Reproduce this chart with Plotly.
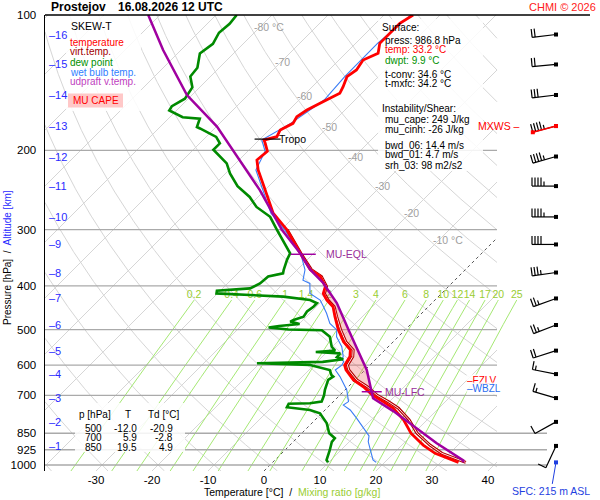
import numpy as np
import plotly.graph_objects as go

# ---------------- data ----------------
temp_p = [986.8, 942, 903, 850, 794, 748, 723, 700, 670, 647, 615, 600, 574, 555, 532, 510, 500, 468, 445, 430,
          416, 401, 381, 368, 338.5, 300, 275.7, 240, 221, 210, 200.8, 192.8, 189.6, 186.4, 180.1, 174.1, 168.3,
          162.6, 159.9, 154.5, 149.3, 144.3, 137.1, 132.5, 125.9, 121.7, 115.6, 109.8, 104.3, 100]
temp_t = [33.2, 27.4, 23.8, 19.5, 15.8, 11.9, 8.9, 5.9, 2.7, -0.3, -3.4, -4.5, -5.1, -6.2, -8.9, -11.0, -12.0, -14.9,
          -17.0, -19.3, -21.1, -22.0, -24.7, -27.7, -32.4, -39.0, -44.4, -50.9, -54.8, -56.8, -56.5, -58.3, -59.1,
          -57.4, -58.0, -56.9, -57.4, -56.8, -56.3, -55.1, -53.9, -54.5, -55.6, -55.1, -55.7, -54.2, -55.7, -55.7,
          -55.7, -54.8]

virt_p = [986.8, 942, 903, 850, 794, 748, 723, 700, 670, 647, 615, 600, 574, 555, 532, 510, 500, 468, 445, 430,
          416, 401, 381, 368, 338.5, 300]
virt_t = [34.5, 28.6, 25.0, 20.6, 16.8, 12.8, 9.8, 6.7, 3.4, 0.3, -2.9, -4.0, -4.6, -5.7, -8.5, -10.6, -11.6, -14.6,
          -16.8, -19.1, -20.9, -21.8, -24.5, -27.5, -32.3, -38.95]

dwpt_p = [986.8, 974.7, 926, 888, 872, 850, 808, 767.7, 754.6, 744, 731, 729, 723, 700, 681, 647, 636, 631, 615,
          599.5, 594, 590, 582, 576, 565, 561, 557, 546, 519, 512, 502, 500, 495, 491, 486, 480, 476, 468, 456, 445,
          437, 430, 422.5, 419, 415.6, 410, 405, 395, 381, 375, 368.4, 350, 338.6, 300, 280.8, 267, 253.7, 240, 225,
          213.6, 203, 199.3, 192.8, 186.6, 178.7, 177.4, 169.9, 168.7, 163, 159.4, 153.5, 144.8, 137, 131, 121.8,
          115.9, 109.5, 104.6, 100]
dwpt_t = [9.9, 9.2, 8.0, 6.9, 6.8, 4.9, 2.7, -0.3, -2.7, -7.3, -7.6, -3.9, -2.1, -2.8, -3.6, -4.8, -4.5, -5.1, -6.3,
          -10.7, -20.5, -9.0, -5.8, -7.3, -7.4, -12.0, -8.8, -10.1, -12.2, -13.2, -14.8, -20.9, -24.8, -23.2, -19.9,
          -22.0, -21.7, -20.5, -20.8, -20.5, -20.5, -22.3, -27.7, -33.9, -40.2, -40.6, -35.1, -34.2, -34.0, -31.9,
          -32.4, -33.6, -34.2, -40.8, -44.3, -48.5, -51.5, -55.6, -59.2, -61.6, -65.2, -66.4, -66.4, -68.2, -72.6,
          -73.4, -74.4, -77.7, -81.3, -81.6, -80.6, -81.3, -83.6, -83.9, -86.0, -85.4, -86.3, -86.0, -86.3]

wetb_p = [986.8, 974.7, 888, 862, 787, 754.6, 736, 723, 681, 636, 615, 600, 589, 584, 574, 546, 519, 501, 484.5,
          460, 445, 430, 415.6, 395, 388.6, 368.4, 341, 300, 275.7, 240, 221, 200.8, 189.6, 174.1, 154.5, 137.1,
          125.9, 115.6, 100]
wetb_t = [18.5, 17.5, 13.4, 12.5, 7.1, 4.5, 2.4, 2.7, 0.3, -3.3, -5.3, -5.0, -5.3, -5.9, -6.3, -8.3, -11.0, -12.2,
          -14.6, -17.0, -18.7, -20.5, -23.5, -25.3, -27.1, -28.6, -32.0, -39.4, -44.8, -51.3, -55.2, -56.9, -59.5,
          -57.3, -55.5, -56.0, -56.1, -56.1, -55.2]

parcel_p = [986.8, 977, 895, 828.7, 760, 711, 687.6, 614.8, 508.8, 436.5, 394, 368, 338, 300, 245, 210, 177, 150.6,
            119.6, 100]
parcel_t = [34.0, 33.7, 25.9, 19.6, 12.5, 6.5, 5.1, 0.3, -9.3, -17.0, -23.0, -27.7, -32.5, -39.9, -50.9, -59.9,
            -69.9, -80.9, -93.2, -102.1]

alt_km = [1, 2, 3, 4, 5, 6, 7, 8, 9, 10, 11, 12, 13, 14, 15, 16]
alt_p = [907, 802, 710, 628, 557, 488.5, 426.5, 373.5, 323.5, 281, 240, 206.3, 176.5, 150.6, 128.8, 110.5]
wind_dir = [205, 241, 286, 281, 252, 249, 250, 262, 270, 270, 270, 254, 255, 263, 265, 263]
wind_kt = [10, 10, 15, 15, 20, 25, 25, 35, 40, 45, 45, 45, 45, 30, 20, 20]
mxws_km = 13

pressure_ticks = [100, 200, 300, 400, 500, 600, 700, 850, 925, 1000]
temp_ticks = [-30, -20, -10, 0, 10, 20, 30, 40]
mixr_values = [0.2, 0.4, 0.6, 1, 1.4, 2, 3, 4, 6, 8, 10, 12, 14, 17, 20, 25]
mixr_labels = ["0.2", "0.4", "0.6", "1", "1.4", "2", "3", "4", "6", "8", "10", "12", "14", "17", "20", "25"]
iso_label_t = [-80, -70, -60, -50, -40, -30, -20, -10]
iso_label_p = [106.3, 127.2, 151.4, 177.4, 206.8, 239.9, 275.4, 316.2]
iso_label_txt = ["-80 °C", "-70", "-60", "-50", "-40", "-30", "-20", "-10 °C"]

table_levels = [500, 700, 850]
table_T = [-12.0, 5.9, 19.5]
table_Td = [-20.9, -2.8, 4.9]

sfc_p = 986.8
lfc_p = 687.3
eql_p = 340.2
tropo_p = 188.7
fzlv_p = 649
wbzl_p = 674.5

info_lines = [("Surface:", "black", 0), ("press: 986.8 hPa", "black", 1), ("temp: 33.2 °C", "#ff0000", 1),
              ("dwpt: 9.9 °C", "#009000", 1), ("t-conv: 34.6 °C", "black", 1), ("t-mxfc: 34.2 °C", "black", 1),
              ("Instability/Shear:", "black", 0), ("mu_cape: 249 J/kg", "black", 1),
              ("mu_cinh: -26 J/kg", "black", 1), ("bwd_06: 14.4 m/s", "black", 1),
              ("bwd_01: 4.7 m/s", "black", 1), ("srh_03: 98 m2/s2", "black", 1)]
info_py = [27.7, 40, 50, 60, 74, 84, 108.3, 119.3, 129.3, 145, 155, 165]

# ---------------- geometry ----------------
FONT = "Liberation Sans, Arial, sans-serif"
W, H = 600, 500
ML, MR, MT, MB = 45, 10, 15, 29
PW, PH = W - ML - MR, H - MT - MB
PXC = 5.6            # px per degC
PXD = 450.0          # px per pressure decade
X0PX = 264           # px of 0 degC tick
LOGP_BOT = 2 + PH / PXD
K = PXD / PXC
X_MIN = (ML - X0PX) / PXC
X_MAX = X_MIN + PW / PXC
XR = (497 - X0PX) / PXC


def skew(t, p):
    return np.asarray(t, dtype=float) + K * (LOGP_BOT - np.log10(p))


def px2x(px):
    return (px - X0PX) / PXC


def py2p(py):
    return 10 ** (2 + (py - MT) / PXD)


def interp_t(ps, ts, p):
    return float(np.interp(np.log10(p), np.log10(ps)[::-1], np.asarray(ts)[::-1]))


def clip_poly(xs, ps, xmin, xmax):
    ox, op = [], []
    lp = np.log10(ps)
    prev_in = None
    for i in range(len(xs)):
        inside = xmin <= xs[i] <= xmax
        if i > 0 and inside != prev_in:
            xb = xmin if (xs[i] < xmin or xs[i - 1] < xmin) else xmax
            t = (xb - xs[i - 1]) / (xs[i] - xs[i - 1])
            ox.append(xb)
            op.append(10 ** (lp[i - 1] + t * (lp[i] - lp[i - 1])))
            if not inside:
                ox.append(None)
                op.append(None)
        if inside:
            ox.append(float(xs[i]))
            op.append(float(ps[i]))
        prev_in = inside
    ox.append(None)
    op.append(None)
    return ox, op


fig = go.Figure()


def line_trace(xs, ps, color, width, dash=None, mode="lines", **kw):
    fig.add_trace(go.Scatter(x=xs, y=ps, mode=mode, line=dict(color=color, width=width, dash=dash),
                             hoverinfo="skip", showlegend=False, **kw))


p_grid = np.logspace(LOGP_BOT, 2, 400)

# isotherms
gx, gp = [], []
for T in range(-130, 60, 10):
    if T == 0:
        continue
    a, b = clip_poly(skew(T, p_grid), p_grid, X_MIN, XR)
    gx += a
    gp += b
line_trace(gx, gp, "rgb(214,214,214)", 1)

# dry adiabats
gx, gp = [], []
for th in range(-40, 230, 10):
    T = (th + 273.15) * (p_grid / 1000.0) ** 0.2857 - 273.15
    a, b = clip_poly(skew(T, p_grid), p_grid, X_MIN, XR)
    gx += a
    gp += b
line_trace(gx, gp, "rgb(214,214,214)", 1)

# 0 degC isotherm
a, b = clip_poly(skew(0, p_grid), p_grid, X_MIN, XR)
line_trace(a, b, "rgb(90,90,90)", 1, dash="dot")

# mixing ratio lines
pm = np.logspace(LOGP_BOT, np.log10(430), 120)
gx, gp = [], []
lab_x = []
for w in mixr_values:
    e = w * pm / (622.0 + w)
    lg = np.log(e / 6.112)
    td = 243.5 * lg / (17.67 - lg)
    gx += list(skew(td, pm)) + [None]
    gp += list(pm) + [None]
    lab_x.append(float(skew(td[-1], pm[-1])))
line_trace(gx, gp, "rgb(165,232,115)", 1)

# pressure lines
gx, gp = [], []
for p in pressure_ticks[1:]:
    xe = px2x(547) if p >= 850 else XR
    gx += [X_MIN, xe, None]
    gp += [p, p, None]
line_trace(gx, gp, "rgb(170,170,170)", 1.3)


# translucent white panels (legend, surface info, table)
def panel(px0, py0, px1, py1):
    xs = [px2x(px0), px2x(px1), px2x(px1), px2x(px0), px2x(px0)]
    ps = [py2p(py0), py2p(py0), py2p(py1), py2p(py1), py2p(py0)]
    fig.add_trace(go.Scatter(x=xs, y=ps, mode="lines", fill="toself", fillcolor="rgba(255,255,255,0.86)",
                             line=dict(width=0), hoverinfo="skip", showlegend=False))


panel(66, 16, 141, 111)
panel(378, 19, 483, 171)
panel(75, 403, 185, 452)

# mixing ratio labels
fig.add_trace(go.Scatter(x=lab_x, y=[419] * len(lab_x), mode="text", text=mixr_labels,
                         textfont=dict(color="#9acd32", size=10.5, family=FONT), hoverinfo="skip",
                         showlegend=False))

# CAPE area
cx, cp = [], []
cx.append(float(skew(interp_t(parcel_p, parcel_t, lfc_p), lfc_p)))
cp.append(lfc_p)
for p, t in zip(parcel_p, parcel_t):
    if eql_p < p < lfc_p:
        cx.append(float(skew(t, p)))
        cp.append(p)
cx.append(float(skew(interp_t(parcel_p, parcel_t, eql_p), eql_p)))
cp.append(eql_p)
cx.append(float(skew(interp_t(virt_p, virt_t, eql_p), eql_p)))
cp.append(eql_p)
for p, t in reversed(list(zip(virt_p, virt_t))):
    if eql_p < p < lfc_p:
        cx.append(float(skew(t, p)))
        cp.append(p)
cx.append(float(skew(interp_t(virt_p, virt_t, lfc_p), lfc_p)))
cp.append(lfc_p)
fig.add_trace(go.Scatter(x=cx, y=cp, mode="lines", fill="toself", fillcolor="rgba(240,110,110,0.35)",
                         line=dict(width=0), hoverinfo="skip", showlegend=False))

# profiles
line_trace(skew(wetb_t, wetb_p), wetb_p, "#3a7cf5", 1.1)
line_trace(skew(dwpt_t, dwpt_p), dwpt_p, "#008a00", 2.6)
line_trace(skew(virt_t, virt_p), virt_p, "#b00000", 3.0)
line_trace(skew(virt_t, virt_p), virt_p, "#ffdede", 1.0)
line_trace(skew(temp_t, temp_p), temp_p, "#ff0000", 2.8)
line_trace(skew(parcel_t, parcel_p), parcel_p, "#a000a0", 2.5)

# level markers
ann = []


def data_text(text, x, p, color, size=10, xanchor="left", **kw):
    ann.append(dict(text=text, x=x, y=float(np.log10(p)), xref="x", yref="y", showarrow=False, xanchor=xanchor,
                    yanchor="middle", font=dict(color=color, size=size, family=FONT), **kw))


xc = float(skew(interp_t(temp_p, temp_t, tropo_p), tropo_p))
line_trace([xc - 13 / PXC, xc + 13 / PXC], [tropo_p, tropo_p], "black", 1.2)
data_text("Tropo", xc + 9 / PXC, tropo_p, "black", 10.5)

xc = float(skew(interp_t(parcel_p, parcel_t, eql_p), eql_p))
line_trace([xc - 10 / PXC, xc + 15 / PXC], [eql_p, eql_p], "#a000a0", 1.5)
data_text("MU-EQL", xc + 23 / PXC, eql_p, "#9a309a", 10.5)

xc = float(skew(interp_t(parcel_p, parcel_t, lfc_p), lfc_p))
line_trace([xc - 10 / PXC, xc + 10 / PXC], [lfc_p, lfc_p], "#a000a0", 1.5)
data_text("MU-LFC", xc + 11 / PXC, lfc_p, "#9a309a", 10.5)

data_text("–FZLV", px2x(466), fzlv_p, "#ff0000", 10, bgcolor="rgba(255,255,255,0.85)", borderpad=0)
data_text("–WBZL", px2x(466), wbzl_p, "#2a6df0", 10, bgcolor="rgba(255,255,255,0.85)", borderpad=0)

# wind barbs
BX = px2x(556)
bx, bp = [], []
dots_x, dots_p = [], []
mx = None
for km, p0, d, s in zip(alt_km, alt_p, wind_dir, wind_kt):
    th = np.deg2rad(d)
    sx, sy = np.sin(th), np.cos(th)
    fx, fy = np.cos(th), -np.sin(th)

    def pt(dx, dy, p0=p0):
        return BX + dx / PXC, p0 * 10 ** (-dy / PXD)

    L = 24.0
    a = pt(0, 0)
    b = pt(sx * L, sy * L)
    bx += [a[0], b[0], None]
    bp += [a[1], b[1], None]
    nf = int(s // 10)
    half = (s % 10) >= 5
    pos = L
    for i in range(nf):
        q0 = pt(sx * pos, sy * pos)
        q1 = pt(sx * pos + fx * 8.5, sy * pos + fy * 8.5)
        bx += [q0[0], q1[0], None]
        bp += [q0[1], q1[1], None]
        pos -= 3
    if half:
        if nf == 0:
            pos -= 3
        q0 = pt(sx * pos, sy * pos)
        q1 = pt(sx * pos + fx * 4.5, sy * pos + fy * 4.5)
        bx += [q0[0], q1[0], None]
        bp += [q0[1], q1[1], None]
    dots_x.append(a[0])
    dots_p.append(a[1])
    if km == mxws_km:
        mx = (a, b)
line_trace(bx, bp, "black", 1.2)
fig.add_trace(go.Scatter(x=dots_x, y=dots_p, mode="markers", marker=dict(symbol="square", size=4, color="black"),
                         hoverinfo="skip", showlegend=False))
if mx is not None:
    fig.add_trace(go.Scatter(x=[mx[0][0], mx[1][0]], y=[mx[0][1], mx[1][1]], mode="lines+markers",
                             line=dict(color="#ff0000", width=1.5),
                             marker=dict(symbol="square", size=4, color="#ff0000"),
                             hoverinfo="skip", showlegend=False))
    data_text("MXWS –", px2x(522), alt_p[alt_km.index(mxws_km)], "#ff0000", 10.5, xanchor="right")

fig.add_trace(go.Scatter(x=[BX], y=[sfc_p], mode="markers", marker=dict(symbol="square", size=4, color="#1f3fe0"),
                         hoverinfo="skip", showlegend=False))
ann.append(dict(text="SFC: 215 m ASL", x=BX, y=float(np.log10(sfc_p)), xref="x", yref="y", showarrow=True,
                arrowhead=0, arrowwidth=1, arrowcolor="#1f3fe0", ax=-5, ay=29, standoff=0,
                font=dict(color="#1f3fe0", size=10.5, family=FONT)))

# altitude ticks
for km, p in zip(alt_km, alt_p):
    data_text("–" + str(km), px2x(47), p, "#2a2aff", 11)

# isotherm labels
for t, p, s in zip(iso_label_t, iso_label_p, iso_label_txt):
    data_text(s, float(skew(t, p)) - 8 / PXC, p, "#a0a0a0", 10.5)


# paper texts
def ptxt(text, px, py, color="black", size=10, xanchor="left", **kw):
    ann.append(dict(text=text, x=(px - ML) / PW, y=(MT + PH - py) / PH, xref="paper", yref="paper",
                    showarrow=False, xanchor=xanchor, yanchor="middle",
                    font=dict(color=color, size=size, family=FONT), **kw))


ptxt("<b>Prostejov</b>", 49, 7, size=12)
ptxt("<b>16.08.2026 12 UTC</b>", 116, 7, size=12)
ptxt("CHMI © 2026", 598, 7, "#ff2020", 11, xanchor="right")

ptxt("SKEW-T", 69, 26, size=10.5)
legend_items = [("temperature", "#ff0000"), ("virt.temp.", "#a00000"), ("dew point", "#009000"),
                ("wet bulb temp.", "#3080ff"), ("udpraft v.temp.", "#c040c0")]
for i, (t, c) in enumerate(legend_items):
    ptxt(t, 69, 42 + 10 * i, c, 10, borderpad=0)
ptxt("MU CAPE", 96, 100.5, "#ff0000", 10, xanchor="center")

for (t, c, ind), py in zip(info_lines, info_py):
    ptxt(t, 381 + 3 * ind, py, c, 10, borderpad=0)

ptxt("p [hPa]", 76.5, 414)
ptxt("T", 127.5, 414, xanchor="center")
ptxt("Td [°C]", 145.5, 414)
for i, (lv, t, td) in enumerate(zip(table_levels, table_T, table_Td)):
    py = 428 + 9.7 * i
    ptxt(str(lv), 102.5, py, xanchor="right", borderpad=0)
    ptxt(f"{t:.1f}", 137.5, py, xanchor="right", borderpad=0)
    ptxt(f"{td:.1f}", 174, py, xanchor="right", borderpad=0)

ptxt("Temperature [°C]&nbsp; /&nbsp; <span style='color:#9acd32'>Mixing ratio [g/kg]</span>", 292, 492,
     size=10.5, xanchor="center")
ann.append(dict(text="Pressure [hPa]&nbsp; /&nbsp; <span style='color:#2a2aff'>Altitude [km]</span>",
                x=(7 - ML) / PW, y=(MT + PH - 258) / PH, xref="paper", yref="paper", showarrow=False,
                textangle=-90, xanchor="center", yanchor="middle", font=dict(color="black", size=10, family=FONT)))

shapes = [
    dict(type="line", xref="paper", yref="paper", x0=0, x1=1, y0=1, y1=1, line=dict(color="black", width=1.5)),
    dict(type="rect", xref="paper", yref="paper", x0=(68 - ML) / PW, x1=(123 - ML) / PW,
         y0=(MT + PH - 107.5) / PH, y1=(MT + PH - 93.5) / PH, fillcolor="#ffc8c8", line=dict(width=0),
         layer="above"),
]

fig.update_layout(
    width=W, height=H, margin=dict(l=ML, r=MR, t=MT, b=MB), paper_bgcolor="white", plot_bgcolor="white",
    showlegend=False, hovermode=False, annotations=ann, shapes=shapes,
    font=dict(family=FONT, color="black"),
    xaxis=dict(range=[X_MIN, X_MAX], tickvals=temp_ticks, ticktext=[str(t) for t in temp_ticks], showgrid=False,
               zeroline=False, showline=False, ticks="", tickfont=dict(size=11.5, color="black", family=FONT),
               fixedrange=True),
    yaxis=dict(type="log", range=[LOGP_BOT, 2], tickvals=pressure_ticks, ticktext=[str(p) for p in pressure_ticks],
               showgrid=False, zeroline=False, showline=True, linecolor="black", linewidth=1.5, ticks="",
               tickfont=dict(size=11.5, color="black", family=FONT), ticklabelstandoff=5, fixedrange=True),
)

fig.write_html("out.html", config={"displayModeBar": False, "staticPlot": True},
               post_script="document.body.style.margin='0';document.body.style.padding='0';"
                           "document.documentElement.style.overflow='hidden';")
